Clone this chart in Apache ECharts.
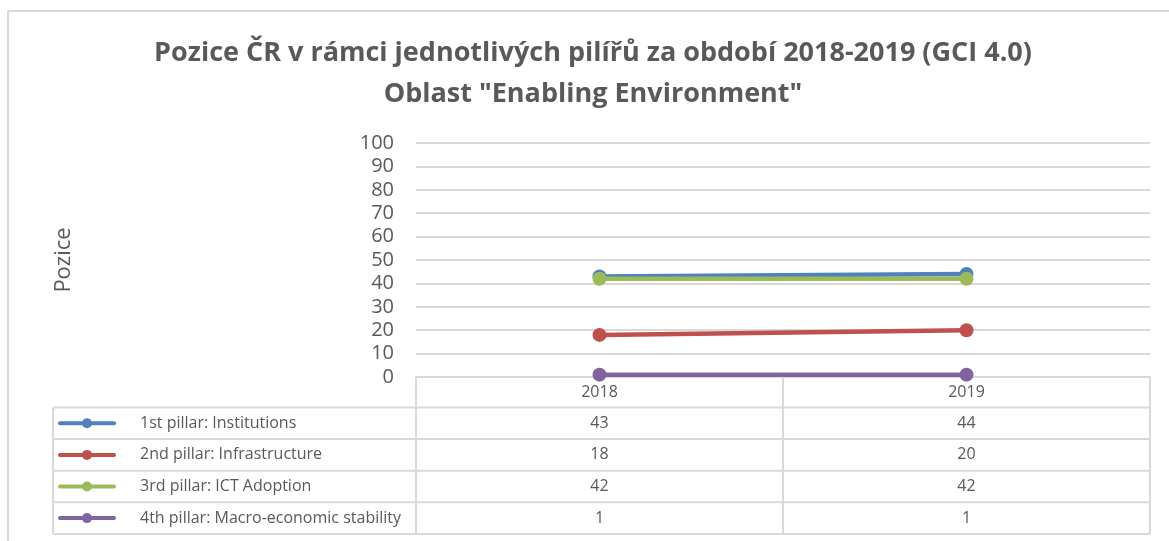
<!DOCTYPE html>
<html>
<head>
<meta charset="utf-8">
<script src="https://cdn.jsdelivr.net/npm/echarts@6/dist/echarts.min.js"></script>
<style>
  html, body { margin: 0; padding: 0; background: #fff; }
  #chart { width: 1169px; height: 541px; }
</style>
</head>
<body>
<div id="chart"></div>
<script>
// data
var years = ['2018', '2019'];
var seriesNames = [
  '1st pillar: Institutions',
  '2nd pillar: Infrastructure',
  '3rd pillar: ICT Adoption',
  '4th pillar: Macro-economic stability'
];
var institutions = [43, 44];
var infrastructure = [18, 20];
var ictAdoption = [42, 42];
var macroStability = [1, 1];
var yTicks = [0, 10, 20, 30, 40, 50, 60, 70, 80, 90, 100];

var allValues = [institutions, infrastructure, ictAdoption, macroStability];
var colors = ['#4F81BD', '#C0504D', '#9BBB59', '#8064A2'];
var textColor = '#595959';
var gridColor = '#d9d9d9';
var font = '"Open Sans", sans-serif';

var myChart = echarts.init(document.getElementById('chart'));

var series = seriesNames.map(function (name, i) {
  return {
    name: name,
    type: 'line',
    data: allValues[i],
    symbol: 'circle',
    symbolSize: 14,
    itemStyle: { color: colors[i] },
    lineStyle: { width: 4.5, color: colors[i], cap: 'round' },
    animation: false
  };
});

myChart.setOption({
  backgroundColor: '#fff',
  animation: false,
  title: {
    text: 'Pozice ČR v rámci jednotlivých pilířů za období 2018-2019 (GCI 4.0)\nOblast "Enabling Environment"',
    left: 593,
    textAlign: 'center',
    top: 33,
    padding: 0,
    textStyle: {
      fontFamily: font,
      fontWeight: 'bold',
      fontSize: 27,
      lineHeight: 41,
      color: textColor
    }
  },
  grid: { left: 416, right: 19, top: 143, bottom: 164 },
  xAxis: {
    type: 'category',
    data: years,
    boundaryGap: true,
    axisLine: { lineStyle: { color: gridColor, width: 2 } },
    axisTick: { show: true, length: 157, interval: 0, lineStyle: { color: gridColor, width: 2 } },
    axisLabel: { color: textColor, fontFamily: font, fontSize: 16, margin: 7 }
  },
  yAxis: {
    type: 'value',
    min: 0,
    max: 100,
    interval: 10,
    name: 'Pozice',
    nameLocation: 'middle',
    nameGap: 341,
    nameRotate: 90,
    nameTextStyle: { color: textColor, fontFamily: font, fontSize: 22 },
    axisLine: { show: false },
    axisTick: { show: false },
    axisLabel: {
      color: textColor, fontFamily: font, fontSize: 20, margin: 22,
      formatter: function (v) { return yTicks.indexOf(v) >= 0 ? String(v) : ''; }
    },
    splitLine: { lineStyle: { color: gridColor, width: 2 } }
  },
  series: series
});

// data table under the plot, built from the arrays above
function buildTable() {
  var c0 = myChart.convertToPixel({ xAxisIndex: 0 }, 0);
  var c1 = myChart.convertToPixel({ xAxisIndex: 0 }, 1);
  var band = c1 - c0;
  var xLeft = 53;
  var xRight = c1 + band / 2;
  var top = myChart.convertToPixel({ yAxisIndex: 0 }, 0);
  var headerH = 30.5;
  var rowH = 31.6;
  var lineStyle = { stroke: gridColor, lineWidth: 2 };
  var els = [];

  // outer chart frame
  els.push({ type: 'rect', shape: { x: 8, y: 11, width: 1200, height: 600 },
    style: { fill: null, stroke: gridColor, lineWidth: 2 }, silent: true });

  var bottom = top + headerH + rowH * seriesNames.length;
  for (var r = 0; r <= seriesNames.length; r++) {
    var y = top + headerH + rowH * r;
    els.push({ type: 'line', shape: { x1: xLeft, y1: y, x2: xRight, y2: y }, style: lineStyle, silent: true });
  }
  els.push({ type: 'line', shape: { x1: xLeft, y1: top + headerH, x2: xLeft, y2: bottom }, style: lineStyle, silent: true });

  seriesNames.forEach(function (name, i) {
    var cy = top + headerH + rowH * i + rowH / 2;
    els.push({ type: 'line', shape: { x1: 60, y1: cy, x2: 114, y2: cy },
      style: { stroke: colors[i], lineWidth: 4, lineCap: 'round' }, silent: true });
    els.push({ type: 'circle', shape: { cx: 87, cy: cy, r: 5 }, style: { fill: colors[i] }, silent: true });
    els.push({ type: 'text', x: 140, y: cy,
      style: { text: name, fill: textColor, font: '16px ' + font, verticalAlign: 'middle', align: 'left' }, silent: true });
    allValues[i].forEach(function (v, j) {
      var cx = myChart.convertToPixel({ xAxisIndex: 0 }, j);
      els.push({ type: 'text', x: cx, y: cy,
        style: { text: String(v), fill: textColor, font: '16px ' + font, verticalAlign: 'middle', align: 'center' }, silent: true });
    });
  });

  myChart.setOption({ graphic: els });
}
buildTable();
</script>
</body>
</html>
